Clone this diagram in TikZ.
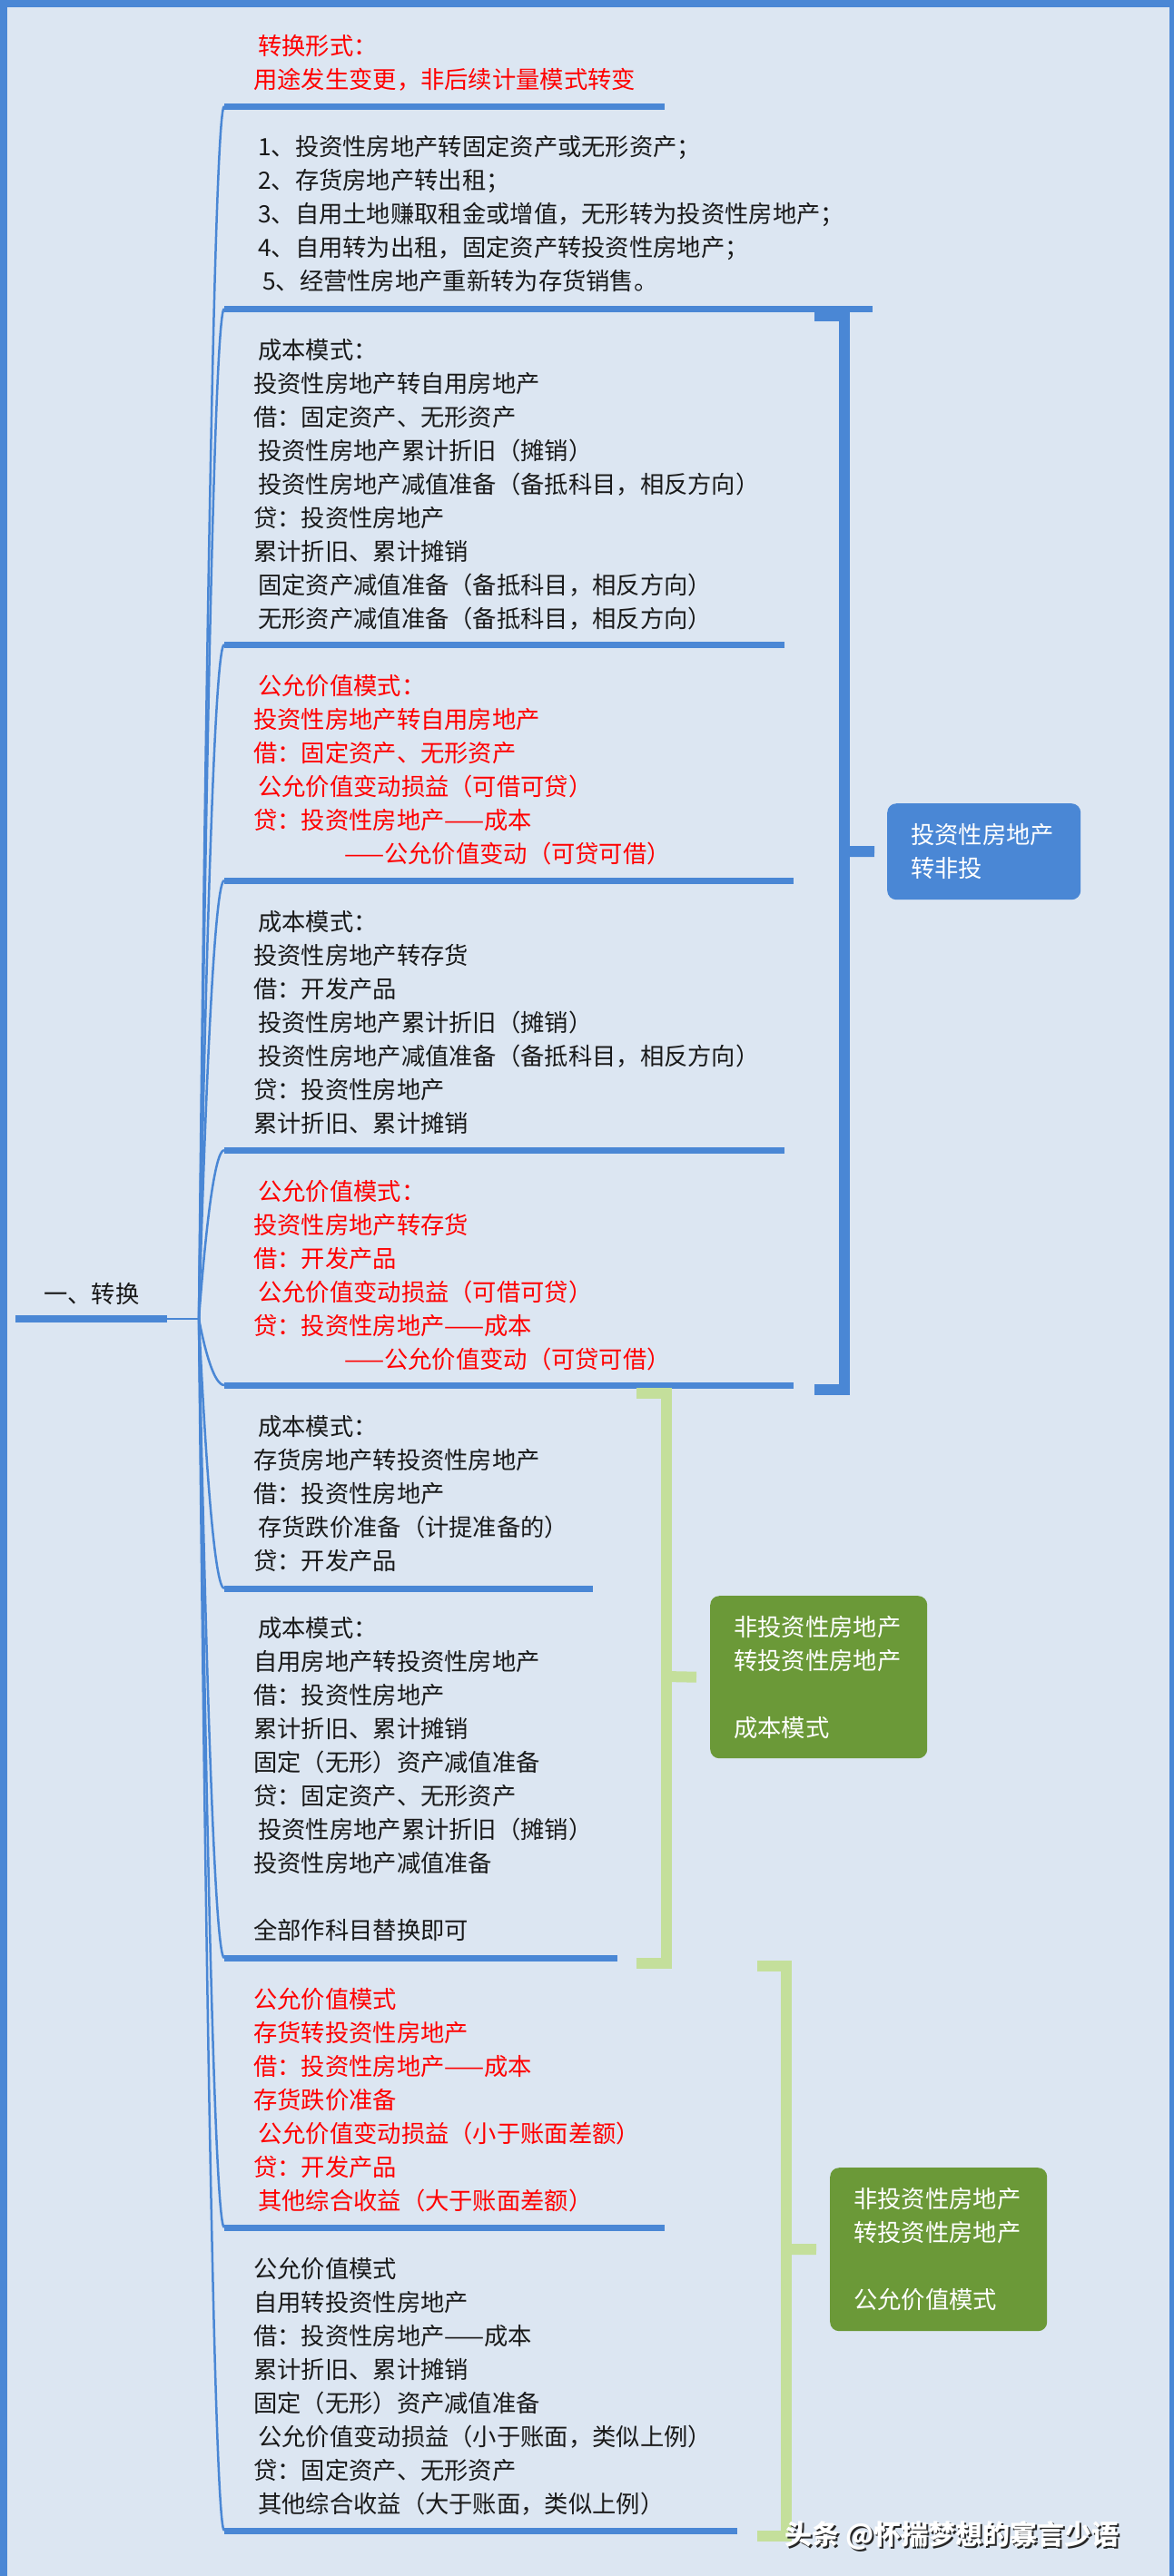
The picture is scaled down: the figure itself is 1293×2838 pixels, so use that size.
\documentclass[tikz,border=0pt]{standalone}
\usepackage{fontspec}
\newfontfamily\cjk{Noto Sans CJK SC}
\usetikzlibrary{calc}
\definecolor{mmback}{RGB}{220,230,242}
\definecolor{mmblue}{RGB}{74,135,213}
\definecolor{mmpale}{RGB}{196,223,155}
\definecolor{mmgreen}{RGB}{107,153,56}
\tikzstyle{mmbar} = [draw=mmblue, line width=7pt]
\tikzstyle{mmcurve} = [draw=mmblue, line width=2.5pt]
\tikzstyle{mmtext} = [anchor=north west, inner sep=0pt, align=left, text=black!90]
\tikzstyle{mmred} = [mmtext, text=red]
\tikzstyle{mmbrace} = [line width=12pt, line join=miter]
\tikzstyle{mmtag} = [anchor=north west, rounded corners=10pt, text=white, align=left, inner xsep=26pt, inner ysep=0pt]
\newcommand{\ind}{\hspace*{5pt}}
\newcommand{\mmblock}[6]{
  \node[#5] (#1) at (279,#2) {#6};
  \coordinate (#1-l) at (247,#3);
  \coordinate (#1-r) at (#4,#3);
  \draw[mmbar] (#1-l) -- (#1-r);
}
\newcommand{\mmlink}[1]{
\draw[mmcurve] (root-e) .. controls ($(root-e)!0.5!(#1)+(-7,0)$) and ($(#1)+(-11,0)$) .. (#1);
}
\newcommand{\mmtag}[6]{
  \node[mmtag, fill=#5, text width=#3, minimum height=#4] (#1) at #2 {#6};
}

\begin{document}
\begin{tikzpicture}[x=1pt, y=-1pt]
\tikzstyle{every node}=[font=\cjk\fontsize{26.3}{37}\selectfont]
\useasboundingbox (0,0) rectangle (1293,2838);
\fill[mmblue] (0,0) rectangle (1293,2838);
\fill[mmback] (8,8) rectangle (1288,2850);

% root
\node[mmtext] (root) at (48,1413) {一、转换};
\coordinate (root-l) at (17,1453);
\coordinate (root-r) at (184,1453);
\coordinate (root-e) at (219,1453);
\draw[mmbar, line width=8pt] (root-l) -- (root-r);
\draw[mmcurve] (root-r) -- (root-e);

\mmblock{frm}{38}{117}{732}{mmred}{\ind 转换形式：\\用途发生变更，非后续计量模式转变}
\mmblock{lst}{149}{340}{961}{mmtext}{\ind 1、投资性房地产转固定资产或无形资产；\\\ind 2、存货房地产转出租；\\\ind 3、自用土地赚取租金或增值，无形转为投资性房地产；\\\ind 4、自用转为出租，固定资产转投资性房地产；\\\ind\ind 5、经营性房地产重新转为存货销售。}
\mmblock{czy}{373}{710}{864}{mmtext}{\ind 成本模式：\\投资性房地产转自用房地产\\借：固定资产、无形资产\\\ind 投资性房地产累计折旧（摊销）\\\ind 投资性房地产减值准备（备抵科目，相反方向）\\贷：投资性房地产\\累计折旧、累计摊销\\\ind 固定资产减值准备（备抵科目，相反方向）\\\ind 无形资产减值准备（备抵科目，相反方向）}
\mmblock{gzy}{743}{970}{874}{mmred}{\ind 公允价值模式：\\投资性房地产转自用房地产\\借：固定资产、无形资产\\\ind 公允价值变动损益（可借可贷）\\贷：投资性房地产——成本\\\hspace*{100pt}——公允价值变动（可贷可借）}
\mmblock{cch}{1003}{1267}{864}{mmtext}{\ind 成本模式：\\投资性房地产转存货\\借：开发产品\\\ind 投资性房地产累计折旧（摊销）\\\ind 投资性房地产减值准备（备抵科目，相反方向）\\贷：投资性房地产\\累计折旧、累计摊销}
\mmblock{gch}{1300}{1526}{874}{mmred}{\ind 公允价值模式：\\投资性房地产转存货\\借：开发产品\\\ind 公允价值变动损益（可借可贷）\\贷：投资性房地产——成本\\\hspace*{100pt}——公允价值变动（可贷可借）}
\mmblock{ctz}{1559}{1750}{653}{mmtext}{\ind 成本模式：\\存货房地产转投资性房地产\\借：投资性房地产\\\ind 存货跌价准备（计提准备的）\\贷：开发产品}
\mmblock{ztz}{1781}{2157}{680}{mmtext}{\ind 成本模式：\\自用房地产转投资性房地产\\借：投资性房地产\\累计折旧、累计摊销\\固定（无形）资产减值准备\\贷：固定资产、无形资产\\\ind 投资性房地产累计折旧（摊销）\\投资性房地产减值准备\\[37pt]全部作科目替换即可}
\mmblock{gtz}{2190}{2454}{732}{mmred}{公允价值模式\\存货转投资性房地产\\借：投资性房地产——成本\\存货跌价准备\\\ind 公允价值变动损益（小于账面差额）\\贷：开发产品\\\ind 其他综合收益（大于账面差额）}
\mmblock{gzt}{2487}{2788}{812}{mmtext}{公允价值模式\\自用转投资性房地产\\借：投资性房地产——成本\\累计折旧、累计摊销\\固定（无形）资产减值准备\\\ind 公允价值变动损益（小于账面，类似上例）\\贷：固定资产、无形资产\\\ind 其他综合收益（大于账面，类似上例）}

\mmlink{frm-l}
\mmlink{lst-l}
\mmlink{czy-l}
\mmlink{gzy-l}
\mmlink{cch-l}
\mmlink{gch-l}
\mmlink{ctz-l}
\mmlink{ztz-l}
\mmlink{gtz-l}
\mmlink{gzt-l}

% tags
\mmtag{fei}{(977,885)}{161pt}{106pt}{mmblue}{投资性房地产\\转非投}
\mmtag{cbm}{(782,1758)}{187pt}{179pt}{mmgreen}{非投资性房地产\\转投资性房地产\\[37pt]成本模式}
\mmtag{gym}{(914,2388)}{187pt}{180pt}{mmgreen}{非投资性房地产\\转投资性房地产\\[37pt]公允价值模式}

% brackets
\coordinate (fei-m) at (930,938);
\coordinate (cbm-m) at (734,1847);
\coordinate (gym-m) at (866,2478);
\draw[mmbrace, mmblue] (897,348) -| (930,1531) -- (897,1531);
\draw[mmbrace, mmblue] (fei-m) -- ([xshift=-14pt]fei.west);
\draw[mmbrace, mmpale] (701,1535) -| (734,2163) -- (701,2163);
\draw[mmbrace, mmpale] (cbm-m) -- ([xshift=-15pt]cbm.west);
\draw[mmbrace, mmpale] (834,2166) -| (866,2794) -- (834,2794);
\draw[mmbrace, mmpale] (gym-m) -- ([xshift=-15pt]gym.west);

% mark
\node[anchor=west, inner sep=0pt, text=black!85, font=\cjk\bfseries\fontsize{30}{36}\selectfont] (wm-s) at (866,2795) {头条 @怀揣梦想的寡言少语};
\node[anchor=west, inner sep=0pt, text=white, font=\cjk\bfseries\fontsize{30}{36}\selectfont] (wm) at (864,2793) {头条 @怀揣梦想的寡言少语};
\end{tikzpicture}
\end{document}
